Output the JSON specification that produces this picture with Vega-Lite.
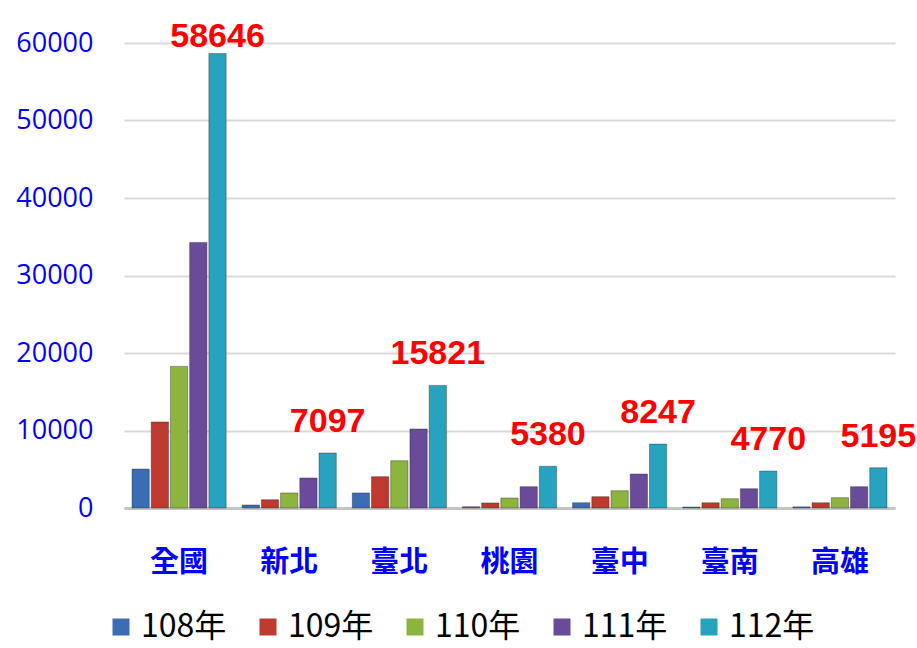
{
  "$schema": "https://vega.github.io/schema/vega-lite/v6.json",
  "width": 771,
  "height": 465,
  "autosize": {"type": "none"},
  "padding": {"left": 124, "top": 43, "right": 22, "bottom": 140},
  "background": "#ffffff",
  "config": {"view": {"stroke": null}, "font": "Noto Sans CJK TC"},
  "data": {
    "values": [
      {"地區": "全國", "年": "108年", "人數": 5030},
      {"地區": "全國", "年": "109年", "人數": 11100},
      {"地區": "全國", "年": "110年", "人數": 18270},
      {"地區": "全國", "年": "111年", "人數": 34270},
      {"地區": "全國", "年": "112年", "人數": 58646},
      {"地區": "新北", "年": "108年", "人數": 390},
      {"地區": "新北", "年": "109年", "人數": 1070},
      {"地區": "新北", "年": "110年", "人數": 1940},
      {"地區": "新北", "年": "111年", "人數": 3870},
      {"地區": "新北", "年": "112年", "人數": 7097},
      {"地區": "臺北", "年": "108年", "人數": 1940},
      {"地區": "臺北", "年": "109年", "人數": 4040},
      {"地區": "臺北", "年": "110年", "人數": 6100},
      {"地區": "臺北", "年": "111年", "人數": 10200},
      {"地區": "臺北", "年": "112年", "人數": 15821},
      {"地區": "桃園", "年": "108年", "人數": 170},
      {"地區": "桃園", "年": "109年", "人數": 650},
      {"地區": "桃園", "年": "110年", "人數": 1290},
      {"地區": "桃園", "年": "111年", "人數": 2750},
      {"地區": "桃園", "年": "112年", "人數": 5380},
      {"地區": "臺中", "年": "108年", "人數": 680},
      {"地區": "臺中", "年": "109年", "人數": 1460},
      {"地區": "臺中", "年": "110年", "人數": 2230},
      {"地區": "臺中", "年": "111年", "人數": 4390},
      {"地區": "臺中", "年": "112年", "人數": 8247},
      {"地區": "臺南", "年": "108年", "人數": 130},
      {"地區": "臺南", "年": "109年", "人數": 680},
      {"地區": "臺南", "年": "110年", "人數": 1200},
      {"地區": "臺南", "年": "111年", "人數": 2490},
      {"地區": "臺南", "年": "112年", "人數": 4770},
      {"地區": "高雄", "年": "108年", "人數": 150},
      {"地區": "高雄", "年": "109年", "人數": 680},
      {"地區": "高雄", "年": "110年", "人數": 1330},
      {"地區": "高雄", "年": "111年", "人數": 2750},
      {"地區": "高雄", "年": "112年", "人數": 5195}
    ]
  },
  "encoding": {
    "x": {
      "field": "地區",
      "type": "nominal",
      "sort": ["全國", "新北", "臺北", "桃園", "臺中", "臺南", "高雄"],
      "scale": {"paddingInner": 0.145, "paddingOuter": 0.0725},
      "axis": {
        "title": null,
        "labelAngle": 0,
        "labelColor": "#0000FF",
        "labelFontSize": 29,
        "labelFontWeight": "bold",
        "labelFont": "Noto Sans CJK TC",
        "labelPadding": 40,
        "ticks": false,
        "domain": true,
        "domainColor": "#C4C4C4",
        "domainWidth": 3,
        "grid": false
      }
    },
    "xOffset": {
      "field": "年",
      "type": "nominal",
      "sort": ["108年", "109年", "110年", "111年", "112年"],
      "scale": {"paddingInner": 0.1}
    },
    "y": {
      "field": "人數",
      "type": "quantitative",
      "scale": {"domain": [0, 60000], "nice": false},
      "axis": {
        "title": null,
        "values": [0, 10000, 20000, 30000, 40000, 50000, 60000],
        "format": "d",
        "labelColor": "#0000FF",
        "labelFontSize": 27,
        "labelFont": "Open Sans",
        "labelPadding": 31,
        "ticks": false,
        "domain": false,
        "grid": true,
        "gridColor": "#D9D9D9",
        "gridWidth": 2
      }
    }
  },
  "layer": [
    {
      "mark": {"type": "bar", "stroke": "#1a1a1a", "strokeOpacity": 0.35, "strokeWidth": 1},
      "encoding": {
        "color": {
          "field": "年",
          "type": "nominal",
          "sort": ["108年", "109年", "110年", "111年", "112年"],
          "scale": {
            "domain": ["108年", "109年", "110年", "111年", "112年"],
            "range": ["#3B6DB5", "#C0392F", "#8DB43E", "#6A4B9A", "#27A2BF"]
          },
          "legend": {
            "title": null,
            "orient": "none",
            "legendX": -19,
            "legendY": 568,
            "direction": "horizontal",
            "symbolType": "square",
            "symbolSize": 289,
            "symbolStrokeWidth": 0,
            "labelFontSize": 32,
            "labelColor": "#000000",
            "labelFont": "Noto Sans CJK TC",
            "labelOffset": 4,
            "columnPadding": 25
          }
        }
      }
    },
    {
      "transform": [{"filter": "datum['年'] == '112年' && datum['地區'] != '全國'"}],
      "mark": {"type": "text", "baseline": "alphabetic", "dy": -21, "color": "#FF0000", "fontSize": 34, "fontWeight": "bold", "font": "Liberation Sans"},
      "encoding": {"text": {"field": "人數", "type": "quantitative", "format": "d"}}
    },
    {
      "transform": [{"filter": "datum['年'] == '112年' && datum['地區'] == '全國'"}],
      "mark": {"type": "text", "baseline": "alphabetic", "dy": -6, "color": "#FF0000", "fontSize": 34, "fontWeight": "bold", "font": "Liberation Sans"},
      "encoding": {"text": {"field": "人數", "type": "quantitative", "format": "d"}}
    }
  ]
}
